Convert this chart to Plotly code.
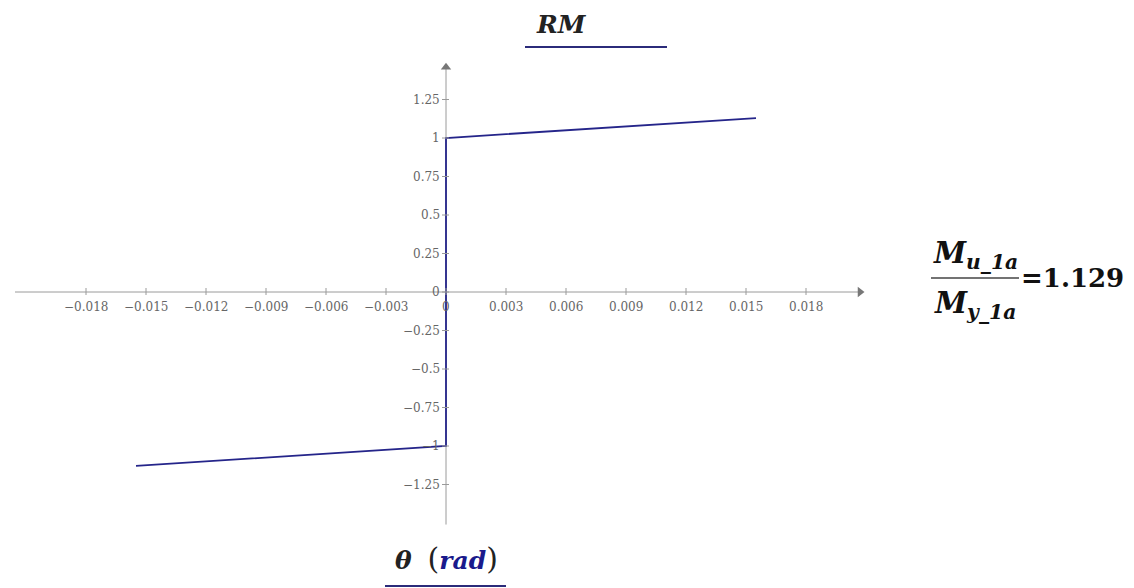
import plotly.graph_objects as go

# ---- data ----
theta = [-0.0155, 0.0, 0.0, 0.0155]
RM = [-1.129, -1.0, 1.0, 1.129]

x_ticks = [-0.018, -0.015, -0.012, -0.009, -0.006, -0.003, 0, 0.003, 0.006, 0.009, 0.012, 0.015, 0.018]
x_tick_labels = ["−0.018", "−0.015", "−0.012", "−0.009", "−0.006", "−0.003", "0",
                 "0.003", "0.006", "0.009", "0.012", "0.015", "0.018"]
y_ticks = [1.25, 1, 0.75, 0.5, 0.25, 0, -0.25, -0.5, -0.75, -1, -1.25]
y_tick_labels = ["1.25", "1", "0.75", "0.5", "0.25", "0", "−0.25", "−0.5", "−0.75", "−1", "−1.25"]

x_axis_span = [-0.02155, 0.0207]
y_axis_span = [-1.51, 1.46]
ratio_text = "=1.129"

W, H = 1134, 588
OFF = 8  # page body margin
x0_px, y0_px = 446 - OFF, 292 - OFF
px_per_x = 20000.0
px_per_y = 154.0
xr = [-x0_px / px_per_x, (W - x0_px) / px_per_x]
yr = [-(H - y0_px) / px_per_y, y0_px / px_per_y]


def px(xp):
    return (xp - OFF) / W


def py(yp):
    return 1 - (yp - OFF) / H


AX = "#9a9a9a"
LINE = "#25258a"
SERIF = "DejaVu Serif, Liberation Serif, serif"
TICKF = dict(family=SERIF, size=12, color="#666666")

fig = go.Figure()

# axes lines
fig.add_trace(go.Scatter(x=x_axis_span, y=[0, 0], mode="lines",
                         line=dict(color=AX, width=1), hoverinfo="skip", showlegend=False))
fig.add_trace(go.Scatter(x=[0, 0], y=y_axis_span, mode="lines",
                         line=dict(color=AX, width=1), hoverinfo="skip", showlegend=False))
# arrow heads
fig.add_trace(go.Scatter(x=[x_axis_span[1]], y=[0], mode="markers",
                         marker=dict(symbol="triangle-right", size=9, color="#777777"),
                         hoverinfo="skip", showlegend=False))
fig.add_trace(go.Scatter(x=[0], y=[y_axis_span[1]], mode="markers",
                         marker=dict(symbol="triangle-up", size=9, color="#777777"),
                         hoverinfo="skip", showlegend=False))

# data
fig.add_trace(go.Scatter(x=theta, y=RM, mode="lines",
                         line=dict(color=LINE, width=1.8), showlegend=False))

shapes = []
annotations = []
for t, lab in zip(x_ticks, x_tick_labels):
    shapes.append(dict(type="line", xref="x", yref="y", x0=t, x1=t,
                       ysizemode="pixel", yanchor=0, y0=-3, y1=4,
                       line=dict(color=AX, width=1)))
    annotations.append(dict(x=t, y=0, xref="x", yref="y", text=lab, showarrow=False,
                            yshift=-15, font=TICKF, xanchor="center", yanchor="middle"))
for t, lab in zip(y_ticks, y_tick_labels):
    shapes.append(dict(type="line", xref="x", yref="y", y0=t, y1=t,
                       xsizemode="pixel", xanchor=0, x0=-4, x1=3,
                       line=dict(color=AX, width=1)))
    annotations.append(dict(x=0, y=t, xref="x", yref="y", text=lab, showarrow=False,
                            xshift=-4, font=TICKF, xanchor="right", yanchor="middle"))

# title RM with underline
annotations.append(dict(x=px(561), y=py(8), xref="paper", yref="paper",
                        text="<b><i>RM</i></b>", showarrow=False,
                        font=dict(family=SERIF, size=25, color="#222222"),
                        xanchor="center", yanchor="top"))
shapes.append(dict(type="line", xref="paper", yref="paper",
                   x0=px(525), x1=px(667), y0=py(47), y1=py(47),
                   line=dict(color="#2b2b7a", width=2)))

# x axis label
annotations.append(dict(x=px(446), y=py(558), xref="paper", yref="paper",
                        text="<b><i>θ</i></b>  <span style='font-size:30px'>(</span><b><i><span style='color:#1a1a8c'>rad</span></i></b><span style='font-size:30px'>)</span>",
                        showarrow=False,
                        font=dict(family=SERIF, size=25, color="#222222"),
                        xanchor="center", yanchor="middle"))
shapes.append(dict(type="line", xref="paper", yref="paper",
                   x0=px(385), x1=px(506), y0=py(586), y1=py(586),
                   line=dict(color="#2b2b7a", width=2)))

# ratio annotation
annotations.append(dict(x=px(975), y=py(255), xref="paper", yref="paper",
                        text="<b><i>M<sub>u_1a</sub></i></b>", showarrow=False,
                        font=dict(family=SERIF, size=29, color="#111111"),
                        xanchor="center", yanchor="middle"))
annotations.append(dict(x=px(975), y=py(305), xref="paper", yref="paper",
                        text="<b><i>M<sub>y_1a</sub></i></b>", showarrow=False,
                        font=dict(family=SERIF, size=29, color="#111111"),
                        xanchor="center", yanchor="middle"))
shapes.append(dict(type="line", xref="paper", yref="paper",
                   x0=px(931), x1=px(1019), y0=py(278), y1=py(278),
                   line=dict(color="#444444", width=1.5)))
annotations.append(dict(x=px(1019), y=py(278), xref="paper", yref="paper",
                        text="<b>" + ratio_text + "</b>", showarrow=False,
                        font=dict(family=SERIF, size=26, color="#111111"),
                        xanchor="left", yanchor="middle"))

fig.update_layout(
    width=W, height=H,
    margin=dict(l=0, r=0, t=0, b=0),
    paper_bgcolor="white", plot_bgcolor="white",
    xaxis=dict(range=xr, visible=False, fixedrange=True),
    yaxis=dict(range=yr, visible=False, fixedrange=True),
    shapes=shapes, annotations=annotations,
    showlegend=False,
)

fig.write_html("out.html")
